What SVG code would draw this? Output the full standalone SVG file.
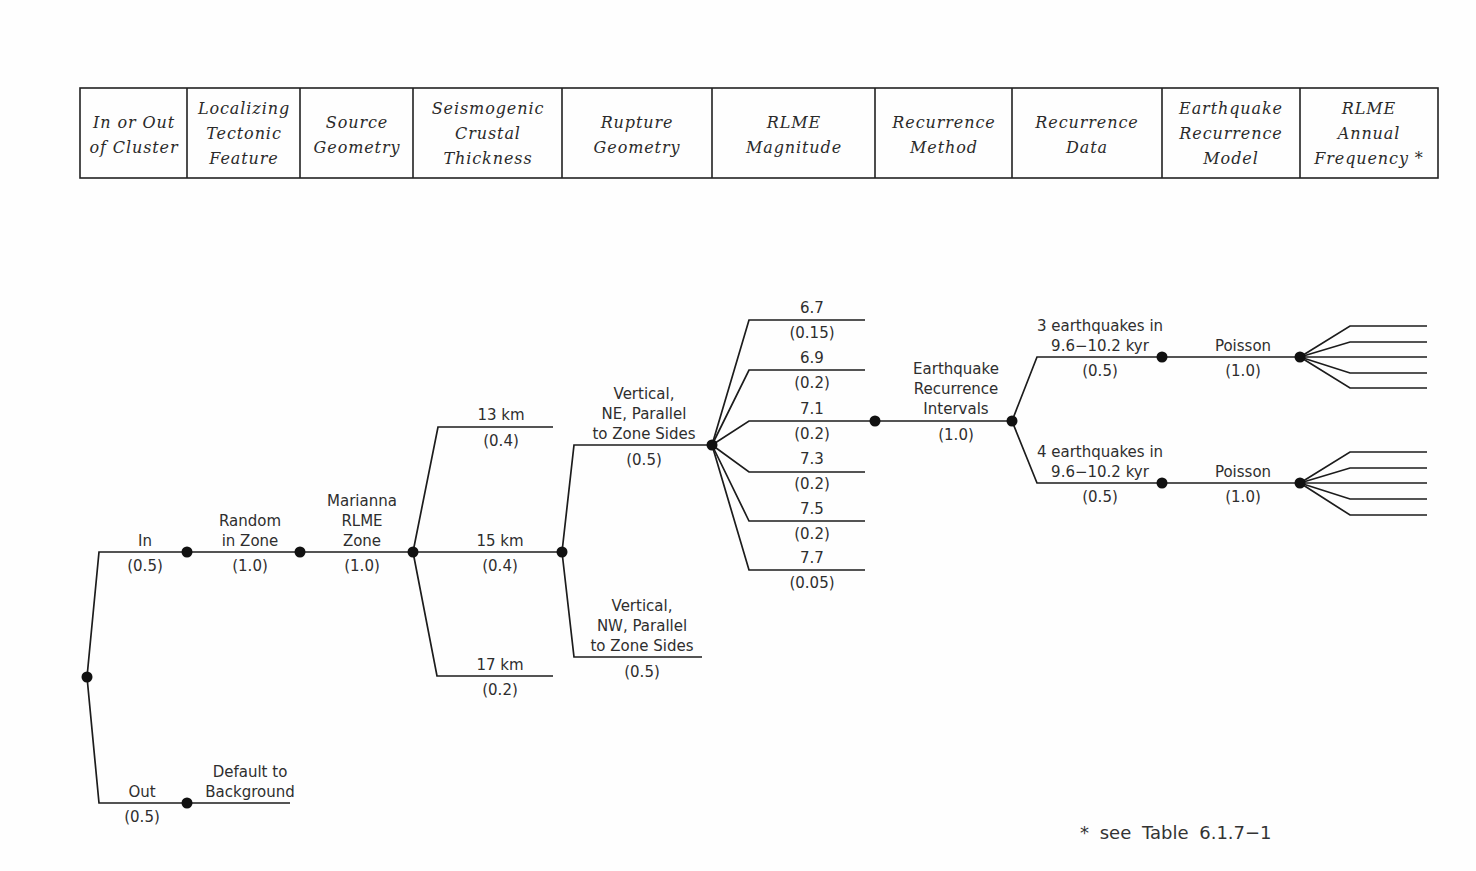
<svg xmlns="http://www.w3.org/2000/svg" width="1476" height="871" viewBox="0 0 1476 871">
  <style>
    .hdr { font-family: "DejaVu Serif", "Liberation Serif", serif; font-style: italic; font-size: 16px; letter-spacing: 0.9px; fill: #2a2a2a; text-anchor: middle; }
    .cell { fill: none; stroke: #222; stroke-width: 1.6; }
    .lbl { font-family: "DejaVu Sans", "Liberation Sans", sans-serif; font-size: 15px; fill: #2e2e2e; text-anchor: middle; }
    .br { fill: none; stroke: #1c1c1c; stroke-width: 1.7; stroke-linejoin: miter; }
    .dot { fill: #111; }
    .note { font-family: "DejaVu Sans", "Liberation Sans", sans-serif; font-size: 18px; fill: #333; word-spacing: 5px; }
  </style>
  <rect width="1476" height="871" fill="#fefefe"/>

  <!-- column header table -->
  <g id="header">
    <rect class="cell" x="80" y="88" width="1358" height="90"/>
    <path class="cell" d="M187 88V178M300 88V178M413 88V178M562 88V178M712 88V178M875 88V178M1012 88V178M1162 88V178M1300 88V178"/>
    <text class="hdr" x="134" y="128">In or Out</text>
    <text class="hdr" x="134" y="153">of Cluster</text>
    <text class="hdr" x="244" y="114">Localizing</text>
    <text class="hdr" x="244" y="139">Tectonic</text>
    <text class="hdr" x="244" y="164">Feature</text>
    <text class="hdr" x="357" y="128">Source</text>
    <text class="hdr" x="357" y="153">Geometry</text>
    <text class="hdr" x="488" y="114">Seismogenic</text>
    <text class="hdr" x="488" y="139">Crustal</text>
    <text class="hdr" x="488" y="164">Thickness</text>
    <text class="hdr" x="637" y="128">Rupture</text>
    <text class="hdr" x="637" y="153">Geometry</text>
    <text class="hdr" x="794" y="128">RLME</text>
    <text class="hdr" x="794" y="153">Magnitude</text>
    <text class="hdr" x="944" y="128">Recurrence</text>
    <text class="hdr" x="944" y="153">Method</text>
    <text class="hdr" x="1087" y="128">Recurrence</text>
    <text class="hdr" x="1087" y="153">Data</text>
    <text class="hdr" x="1231" y="114">Earthquake</text>
    <text class="hdr" x="1231" y="139">Recurrence</text>
    <text class="hdr" x="1231" y="164">Model</text>
    <text class="hdr" x="1369" y="114">RLME</text>
    <text class="hdr" x="1369" y="139">Annual</text>
    <text class="hdr" x="1369" y="164">Frequency *</text>
  </g>

  <!-- branch lines -->
  <g id="connectors">
    <polyline class="br" points="87,677 99,552 413,552"/>
    <polyline class="br" points="87,677 99,803 290,803"/>
    <polyline class="br" points="413,552 438,427 553,427"/>
    <polyline class="br" points="413,552 562,552"/>
    <polyline class="br" points="413,552 437,676 553,676"/>
    <polyline class="br" points="562,552 574,445 712,445"/>
    <polyline class="br" points="562,552 574,657 702,657"/>
    <polyline class="br" points="712,445 749,320 865,320"/>
    <polyline class="br" points="712,445 749,370 865,370"/>
    <polyline class="br" points="712,445 749,421 1012,421"/>
    <polyline class="br" points="712,445 749,472 865,472"/>
    <polyline class="br" points="712,445 749,521 865,521"/>
    <polyline class="br" points="712,445 749,570 865,570"/>
    <polyline class="br" points="1012,421 1037,357 1300,357"/>
    <polyline class="br" points="1012,421 1037,483 1300,483"/>
    <polyline class="br" points="1300,357 1350,326 1427,326"/>
    <polyline class="br" points="1300,357 1350,342 1427,342"/>
    <polyline class="br" points="1300,357 1427,357"/>
    <polyline class="br" points="1300,357 1350,373 1427,373"/>
    <polyline class="br" points="1300,357 1350,388 1427,388"/>
    <polyline class="br" points="1300,483 1350,452 1427,452"/>
    <polyline class="br" points="1300,483 1350,468 1427,468"/>
    <polyline class="br" points="1300,483 1427,483"/>
    <polyline class="br" points="1300,483 1350,499 1427,499"/>
    <polyline class="br" points="1300,483 1350,515 1427,515"/>
  </g>

  <g id="root"><circle class="dot" cx="87" cy="677" r="5.5"/></g>

  <g id="in">
    <circle class="dot" cx="187" cy="552" r="5.5"/>
    <text class="lbl" x="145" y="546">In</text>
    <text class="lbl" x="145" y="571">(0.5)</text>
  </g>
  <g id="random-in-zone">
    <circle class="dot" cx="300" cy="552" r="5.5"/>
    <text class="lbl" x="250" y="526">Random</text>
    <text class="lbl" x="250" y="546">in Zone</text>
    <text class="lbl" x="250" y="571">(1.0)</text>
  </g>
  <g id="marianna-zone">
    <circle class="dot" cx="413" cy="552" r="5.5"/>
    <text class="lbl" x="362" y="506">Marianna</text>
    <text class="lbl" x="362" y="526">RLME</text>
    <text class="lbl" x="362" y="546">Zone</text>
    <text class="lbl" x="362" y="571">(1.0)</text>
  </g>
  <g id="out">
    <circle class="dot" cx="187" cy="803" r="5.5"/>
    <text class="lbl" x="142" y="797">Out</text>
    <text class="lbl" x="142" y="822">(0.5)</text>
  </g>
  <g id="default-background">
    <text class="lbl" x="250" y="777">Default to</text>
    <text class="lbl" x="250" y="797">Background</text>
  </g>

  <g id="thick-13">
    <text class="lbl" x="501" y="420">13 km</text>
    <text class="lbl" x="501" y="446">(0.4)</text>
  </g>
  <g id="thick-15">
    <circle class="dot" cx="562" cy="552" r="5.5"/>
    <text class="lbl" x="500" y="546">15 km</text>
    <text class="lbl" x="500" y="571">(0.4)</text>
  </g>
  <g id="thick-17">
    <text class="lbl" x="500" y="670">17 km</text>
    <text class="lbl" x="500" y="695">(0.2)</text>
  </g>

  <g id="rupture-ne">
    <circle class="dot" cx="712" cy="445" r="5.5"/>
    <text class="lbl" x="644" y="399">Vertical,</text>
    <text class="lbl" x="644" y="419">NE, Parallel</text>
    <text class="lbl" x="644" y="439">to Zone Sides</text>
    <text class="lbl" x="644" y="465">(0.5)</text>
  </g>
  <g id="rupture-nw">
    <text class="lbl" x="642" y="611">Vertical,</text>
    <text class="lbl" x="642" y="631">NW, Parallel</text>
    <text class="lbl" x="642" y="651">to Zone Sides</text>
    <text class="lbl" x="642" y="677">(0.5)</text>
  </g>

  <g id="mag-6.7">
    <text class="lbl" x="812" y="313">6.7</text>
    <text class="lbl" x="812" y="338">(0.15)</text>
  </g>
  <g id="mag-6.9">
    <text class="lbl" x="812" y="363">6.9</text>
    <text class="lbl" x="812" y="388">(0.2)</text>
  </g>
  <g id="mag-7.1">
    <circle class="dot" cx="875" cy="421" r="5.5"/>
    <text class="lbl" x="812" y="414">7.1</text>
    <text class="lbl" x="812" y="439">(0.2)</text>
  </g>
  <g id="mag-7.3">
    <text class="lbl" x="812" y="464">7.3</text>
    <text class="lbl" x="812" y="489">(0.2)</text>
  </g>
  <g id="mag-7.5">
    <text class="lbl" x="812" y="514">7.5</text>
    <text class="lbl" x="812" y="539">(0.2)</text>
  </g>
  <g id="mag-7.7">
    <text class="lbl" x="812" y="563">7.7</text>
    <text class="lbl" x="812" y="588">(0.05)</text>
  </g>

  <g id="recurrence-intervals">
    <circle class="dot" cx="1012" cy="421" r="5.5"/>
    <text class="lbl" x="956" y="374">Earthquake</text>
    <text class="lbl" x="956" y="394">Recurrence</text>
    <text class="lbl" x="956" y="414">Intervals</text>
    <text class="lbl" x="956" y="440">(1.0)</text>
  </g>

  <g id="data-3eq">
    <circle class="dot" cx="1162" cy="357" r="5.5"/>
    <text class="lbl" x="1100" y="331">3 earthquakes in</text>
    <text class="lbl" x="1100" y="351">9.6−10.2 kyr</text>
    <text class="lbl" x="1100" y="376">(0.5)</text>
  </g>
  <g id="poisson-3eq">
    <circle class="dot" cx="1300" cy="357" r="5.5"/>
    <text class="lbl" x="1243" y="351">Poisson</text>
    <text class="lbl" x="1243" y="376">(1.0)</text>
  </g>
  <g id="data-4eq">
    <circle class="dot" cx="1162" cy="483" r="5.5"/>
    <text class="lbl" x="1100" y="457">4 earthquakes in</text>
    <text class="lbl" x="1100" y="477">9.6−10.2 kyr</text>
    <text class="lbl" x="1100" y="502">(0.5)</text>
  </g>
  <g id="poisson-4eq">
    <circle class="dot" cx="1300" cy="483" r="5.5"/>
    <text class="lbl" x="1243" y="477">Poisson</text>
    <text class="lbl" x="1243" y="502">(1.0)</text>
  </g>

  <text class="note" x="1080" y="839">* see Table 6.1.7−1</text>
</svg>
